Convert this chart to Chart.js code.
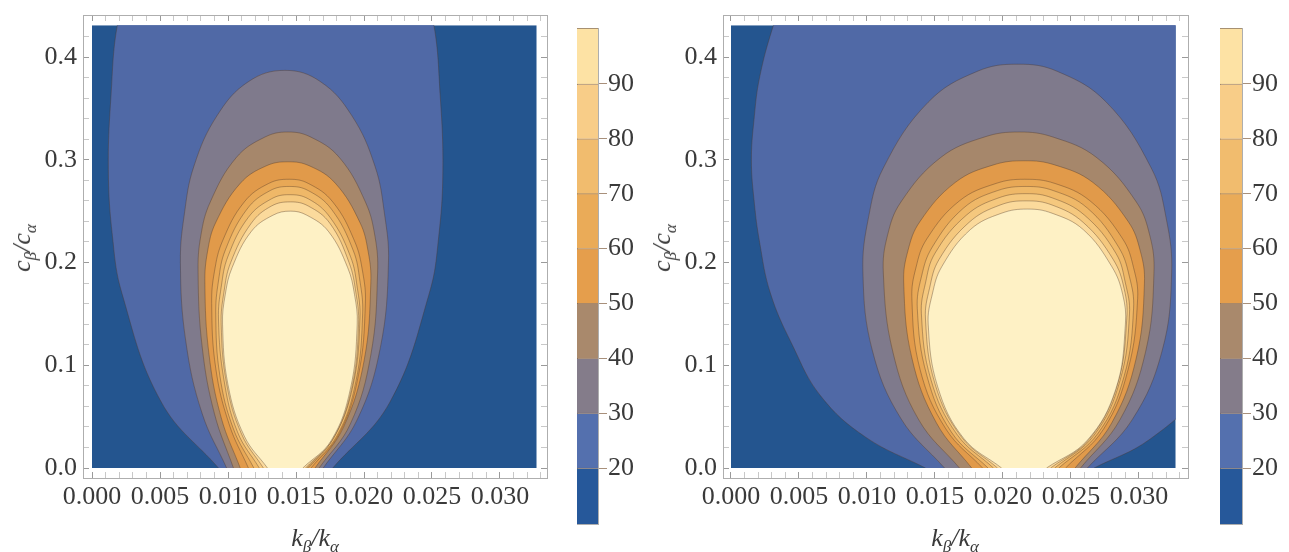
<!DOCTYPE html>
<html><head><meta charset="utf-8">
<script src="https://cdn.jsdelivr.net/npm/chart.js@4.4.1/dist/chart.umd.min.js"></script>
<style>
html,body{margin:0;padding:0;background:#fff;}
#wrap{position:relative;width:1289px;height:552px;overflow:hidden;}
.cv{position:absolute;top:0;}
.ttl{position:absolute;font:italic 26px 'Liberation Serif',serif;color:#3a3a3a;white-space:nowrap;line-height:1;}
.ttl .sb{font-size:17px;position:relative;top:6px;}
</style></head><body>
<div id="wrap">
  <canvas class="cv" id="plotL" width="560" height="552" style="left:0"></canvas>
  <canvas class="cv" id="barL" width="85" height="552" style="left:560px"></canvas>
  <canvas class="cv" id="plotR" width="560" height="552" style="left:640px"></canvas>
  <canvas class="cv" id="barR" width="86" height="552" style="left:1203px"></canvas>
  <div class="ttl" style="left:22px;top:248px;transform:translate(-50%,-50%) rotate(-90deg)">c<span class="sb">β</span>/c<span class="sb">α</span></div>
  <div class="ttl" style="left:662px;top:248px;transform:translate(-50%,-50%) rotate(-90deg)">c<span class="sb">β</span>/c<span class="sb">α</span></div>
  <div class="ttl" style="left:315px;top:538px;transform:translate(-50%,-50%)">k<span class="sb">β</span>/k<span class="sb">α</span></div>
  <div class="ttl" style="left:955px;top:538px;transform:translate(-50%,-50%)">k<span class="sb">β</span>/k<span class="sb">α</span></div>
</div>
<script>
// ---------- data ----------
const xTickLabels = ['0.000','0.005','0.010','0.015','0.020','0.025','0.030'];
const xTickValues = [0, 0.005, 0.010, 0.015, 0.020, 0.025, 0.030];
const yTickLabels = ['0.0','0.1','0.2','0.3','0.4'];
const yTickValues = [0, 0.1, 0.2, 0.3, 0.4];
const plotRangeX = [0, 0.0327];
const plotRangeY = [0, 0.431];

const levelNames = ['<20','20','30','40','50','60','70','80','90','>100'];
const barBounds = [9.8, 20, 30, 40, 50, 60, 70, 80, 90, 100.2];
const barTicks = [20, 30, 40, 50, 60, 70, 80, 90];

// contour boundaries: [x, y] points from bottom-left, over the top, to bottom-right
const leftL20 = [[0.0093,0],[0.0051,0.064],[0.0022,0.170],[0.0015,0.226],[0.0012,0.290],[0.0014,0.363],[0.0019,0.434],[0.0041,0.560],[0.0135,0.710],[0.0229,0.560],[0.0251,0.434],[0.0256,0.363],[0.0258,0.290],[0.0255,0.226],[0.0248,0.170],[0.0219,0.064],[0.0177,0]];
const leftL30 = [[0.0099,0],[0.0081,0.053],[0.0069,0.123],[0.0065,0.200],[0.0068,0.248],[0.0075,0.294],[0.0092,0.343],[0.0115,0.376],[0.0142,0.387],[0.0168,0.376],[0.0191,0.343],[0.0208,0.294],[0.0215,0.248],[0.0218,0.200],[0.0212,0.117],[0.0195,0.047],[0.0170,0]];
const leftL40 = [[0.0104,0],[0.0090,0.053],[0.0081,0.118],[0.0078,0.190],[0.0080,0.226],[0.0087,0.259],[0.0106,0.302],[0.0127,0.322],[0.0144,0.327],[0.0161,0.322],[0.0182,0.302],[0.0201,0.259],[0.0208,0.226],[0.0210,0.190],[0.0205,0.110],[0.0190,0.043],[0.0167,0]];
const leftL50 = [[0.0109,0],[0.0095,0.049],[0.0086,0.111],[0.0083,0.180],[0.0085,0.211],[0.0091,0.239],[0.0109,0.277],[0.0128,0.294],[0.0144,0.298],[0.0160,0.294],[0.0179,0.277],[0.0197,0.239],[0.0203,0.211],[0.0205,0.180],[0.0200,0.104],[0.0185,0.040],[0.0164,0]];
const leftL60 = [[0.0115,0],[0.0101,0.042],[0.0091,0.097],[0.0088,0.160],[0.0090,0.191],[0.0096,0.221],[0.0112,0.259],[0.0130,0.277],[0.0145,0.281],[0.0159,0.277],[0.0177,0.259],[0.0193,0.221],[0.0199,0.191],[0.0201,0.160],[0.0196,0.091],[0.0182,0.034],[0.0161,0]];
const leftL70 = [[0.0119,0],[0.0104,0.038],[0.0094,0.090],[0.0091,0.150],[0.0093,0.182],[0.0098,0.212],[0.0114,0.252],[0.0131,0.270],[0.0145,0.274],[0.0159,0.270],[0.0176,0.252],[0.0192,0.212],[0.0197,0.182],[0.0199,0.150],[0.0194,0.084],[0.0180,0.031],[0.0159,0]];
const leftL80 = [[0.0123,0],[0.0107,0.035],[0.0097,0.086],[0.0093,0.145],[0.0095,0.176],[0.0100,0.206],[0.0115,0.244],[0.0132,0.262],[0.0145,0.266],[0.0159,0.262],[0.0175,0.244],[0.0190,0.206],[0.0195,0.176],[0.0197,0.145],[0.0192,0.081],[0.0178,0.030],[0.0158,0]];
const leftL90 = [[0.0126,0],[0.0110,0.033],[0.0099,0.082],[0.0095,0.140],[0.0097,0.171],[0.0102,0.200],[0.0117,0.238],[0.0132,0.255],[0.0146,0.259],[0.0159,0.255],[0.0175,0.238],[0.0189,0.200],[0.0194,0.171],[0.0196,0.140],[0.0191,0.078],[0.0177,0.028],[0.0157,0]];
const leftCore = [[0.0129,0],[0.0112,0.031],[0.0100,0.081],[0.0096,0.140],[0.0098,0.169],[0.0103,0.195],[0.0117,0.230],[0.0133,0.246],[0.0146,0.250],[0.0158,0.246],[0.0174,0.230],[0.0188,0.195],[0.0193,0.169],[0.0195,0.140],[0.0190,0.077],[0.0176,0.027],[0.0155,0]];

const rightL20 = [[0.0143,0],[0.0099,0.03],[0.0066,0.07],[0.0045,0.12],[0.0029,0.17],[0.0021,0.22],[0.0017,0.26],[0.0015,0.30],[0.0017,0.34],[0.0021,0.38],[0.0031,0.43],[0.0041,0.464],[0.0113,0.584],[0.0210,0.628],[0.0308,0.584],[0.0379,0.464],[0.0405,0.30],[0.0387,0.167],[0.0348,0.078],[0.0308,0.028],[0.0267,0]];
const rightL30 = [[0.0157,0],[0.0125,0.048],[0.0104,0.114],[0.0097,0.190],[0.0101,0.243],[0.0112,0.292],[0.0145,0.356],[0.0181,0.386],[0.0211,0.393],[0.0240,0.386],[0.0276,0.356],[0.0309,0.292],[0.0320,0.243],[0.0324,0.190],[0.0317,0.114],[0.0295,0.047],[0.0262,0]];
const rightL40 = [[0.0168,0],[0.0138,0.047],[0.0119,0.113],[0.0112,0.190],[0.0115,0.226],[0.0125,0.259],[0.0154,0.302],[0.0186,0.322],[0.0212,0.327],[0.0237,0.322],[0.0269,0.302],[0.0298,0.259],[0.0308,0.226],[0.0311,0.190],[0.0305,0.114],[0.0286,0.047],[0.0257,0]];
const rightL50 = [[0.0177,0],[0.0151,0.044],[0.0133,0.107],[0.0127,0.180],[0.0130,0.211],[0.0139,0.240],[0.0165,0.278],[0.0193,0.295],[0.0216,0.299],[0.0238,0.295],[0.0266,0.278],[0.0292,0.240],[0.0301,0.211],[0.0304,0.180],[0.0298,0.107],[0.0280,0.044],[0.0253,0]];
const rightL60 = [[0.0185,0],[0.0158,0.038],[0.0139,0.096],[0.0133,0.165],[0.0136,0.195],[0.0144,0.223],[0.0168,0.260],[0.0195,0.277],[0.0216,0.281],[0.0238,0.277],[0.0264,0.260],[0.0288,0.223],[0.0296,0.195],[0.0299,0.165],[0.0292,0.096],[0.0274,0.038],[0.0246,0]];
const rightL70 = [[0.0189,0],[0.0162,0.035],[0.0144,0.090],[0.0137,0.155],[0.0140,0.186],[0.0148,0.215],[0.0171,0.253],[0.0196,0.270],[0.0217,0.274],[0.0237,0.270],[0.0262,0.253],[0.0285,0.215],[0.0293,0.186],[0.0296,0.155],[0.0289,0.089],[0.0270,0.034],[0.0241,0]];
const rightL80 = [[0.0193,0],[0.0166,0.033],[0.0147,0.086],[0.0140,0.150],[0.0143,0.180],[0.0150,0.209],[0.0173,0.246],[0.0197,0.263],[0.0217,0.267],[0.0236,0.263],[0.0260,0.246],[0.0283,0.209],[0.0290,0.180],[0.0293,0.150],[0.0286,0.085],[0.0267,0.032],[0.0238,0]];
const rightL90 = [[0.0196,0],[0.0169,0.031],[0.0150,0.082],[0.0143,0.145],[0.0146,0.175],[0.0153,0.203],[0.0175,0.239],[0.0198,0.256],[0.0217,0.260],[0.0236,0.256],[0.0259,0.239],[0.0281,0.203],[0.0289,0.175],[0.0291,0.145],[0.0284,0.081],[0.0264,0.029],[0.0235,0]];
const rightCore = [[0.0199,0],[0.0171,0.029],[0.0152,0.079],[0.0145,0.140],[0.0148,0.169],[0.0155,0.196],[0.0176,0.232],[0.0199,0.248],[0.0218,0.252],[0.0236,0.248],[0.0259,0.232],[0.0280,0.196],[0.0288,0.169],[0.0290,0.140],[0.0283,0.077],[0.0262,0.027],[0.0232,0]];

// ---------- style ----------
const bandColors = ['#24558f','#5069a6','#7f7a8c','#a6876b','#e19a4a','#e8a856','#efb868','#f5c87e','#fbda9c','#fef1c5'];
const barColors = ['#26589a','#5470ae','#847c8a','#a9896c','#e59e4c','#eaab58','#f1bc6e','#f8cd88','#fde2a4'];
const LINE = 'rgba(80,55,40,0.38)';
const FRAME = '#aeaeae';
const TXT = '#3a3a3a';
const FONT = {family:"'Liberation Serif', 'Times New Roman', serif", size:26};

const toPoints = arr => arr.map(p => ({x:p[0], y:p[1]}));

const dataClip = {
  id:'dataClip',
  beforeDatasetsDraw(chart){
    const x = chart.scales.x, y = chart.scales.y, ctx = chart.ctx;
    const l = x.getPixelForValue(plotRangeX[0]), r = x.getPixelForValue(plotRangeX[1]);
    const t = y.getPixelForValue(plotRangeY[1]), b = y.getPixelForValue(plotRangeY[0]);
    ctx.save(); ctx.beginPath(); ctx.rect(l, t, r-l, b-t); ctx.clip();
  },
  afterDatasetsDraw(chart){ chart.ctx.restore(); }
};

function minorList(step, max){ const a=[]; for(let i=0;i*step<=max+1e-9;i++) a.push(+(i*step).toFixed(6)); return a; }
const xMinor = minorList(0.001, 0.033);
const yMinor = minorList(0.02, 0.44);
function isMajor(v, majors){ return majors.some(m => Math.abs(m-v) < 1e-7); }

function frameAxis(pos, min, max, ticksArr, majors, labels, showLabels, size, pad){
  const horiz = (pos === 'top' || pos === 'bottom');
  return {
    type:'linear', position:pos, min, max,
    afterBuildTicks: s => { s.ticks = ticksArr.map(v => ({value:v})); },
    afterFit: s => {
      if (horiz) s.height = size; else s.width = size;
      s.paddingTop = 0; s.paddingBottom = 0; s.paddingLeft = 0; s.paddingRight = 0;
    },
    grid:{display:true, drawOnChartArea:false, drawTicks:true, tickLength:-6, lineWidth:1,
      color: c => (c.tick && isMajor(c.tick.value, majors)) ? '#9a9a9a' : '#c8c8c8'},
    border:{display:true, color:FRAME, width:1},
    ticks:{display:showLabels, autoSkip:false, maxRotation:0, minRotation:0, padding:pad, font:FONT, color:TXT,
      callback: v => { const k = majors.findIndex(m => Math.abs(m-v) < 1e-7); return k >= 0 ? labels[k] : ''; }}
  };
}

function makePlot(id, rings, xmin, xmax, rightPad){
  const datasets = [];
  // later datasets are drawn underneath earlier ones, so the innermost contour goes first
  for (let i = rings.length-1; i >= 0; i--) {
    datasets.push({
      data: toPoints(rings[i]), fill:'shape', backgroundColor:bandColors[i+1],
      borderColor:LINE, borderWidth:1, pointRadius:0, tension:0.4
    });
  }
  datasets.push({
    data:[{x:plotRangeX[0],y:plotRangeY[0]},{x:plotRangeX[1],y:plotRangeY[0]},{x:plotRangeX[1],y:plotRangeY[1]},{x:plotRangeX[0],y:plotRangeY[1]}],
    fill:'shape', backgroundColor:bandColors[0], borderWidth:0, pointRadius:0, tension:0
  });
  const ymin = -0.00973, ymax = 0.44088;
  new Chart(document.getElementById(id), {
    type:'line',
    data:{datasets},
    plugins:[dataClip],
    options:{
      responsive:false, animation:false, events:[],
      layout:{padding:{top:15, right:rightPad, left:0, bottom:0}},
      elements:{line:{capBezierPoints:false}},
      plugins:{legend:{display:false}, tooltip:{enabled:false}},
      scales:{
        x: frameAxis('bottom', xmin, xmax, xMinor, xTickValues, xTickLabels, true, 74, 10),
        x2: frameAxis('top', xmin, xmax, xMinor, xTickValues, xTickLabels, false, 0, 0),
        y: frameAxis('left', ymin, ymax, yMinor, yTickValues, yTickLabels, true, 83, 12),
        y2: frameAxis('right', ymin, ymax, yMinor, yTickValues, yTickLabels, false, 0, 0)
      }
    }
  });
}

function makeBar(id){
  const datasets = barColors.map((c, i) => ({
    data:[[barBounds[i], barBounds[i+1]]], backgroundColor:c,
    borderColor:'rgba(110,70,35,0.55)', borderWidth:{top:1, bottom:0, left:0, right:0}, borderSkipped:false,
    grouped:false, barPercentage:1, categoryPercentage:1
  }));
  new Chart(document.getElementById(id), {
    type:'bar',
    data:{labels:[''], datasets},
    options:{
      responsive:false, animation:false, events:[],
      layout:{padding:{top:28, bottom:28, left:17, right:0}},
      plugins:{legend:{display:false}, tooltip:{enabled:false}},
      scales:{
        x:{display:true, position:'bottom', afterFit: s => { s.height = 0; }, grid:{display:false}, ticks:{display:false}, border:{display:true, color:FRAME}},
        x2:{display:true, position:'top', afterFit: s => { s.height = 0; }, grid:{display:false}, ticks:{display:false}, border:{display:true, color:FRAME}},
        y:{type:'linear', position:'right', min:barBounds[0], max:barBounds[barBounds.length-1],
          afterBuildTicks: s => { s.ticks = barTicks.map(v => ({value:v})); },
          afterFit: s => { s.width = 47; s.paddingTop = 0; s.paddingBottom = 0; },
          grid:{display:true, drawOnChartArea:false, drawTicks:true, tickLength:9, color:'rgba(110,70,35,0.6)'},
          border:{display:true, color:FRAME},
          ticks:{padding:1, font:FONT, color:TXT, callback: v => String(v)}},
        y2:{type:'linear', position:'left', min:barBounds[0], max:barBounds[barBounds.length-1],
          afterFit: s => { s.width = 0; }, grid:{display:false}, ticks:{display:false}, border:{display:true, color:FRAME}}
      }
    }
  });
}

makePlot('plotL', [leftL20,leftL30,leftL40,leftL50,leftL60,leftL70,leftL80,leftL90,leftCore], -0.000662, 0.033456, 13);
makePlot('plotR', [rightL20,rightL30,rightL40,rightL50,rightL60,rightL70,rightL80,rightL90,rightCore], -0.000588, 0.033603, 12);
makeBar('barL');
makeBar('barR');
</script>
</body></html>
